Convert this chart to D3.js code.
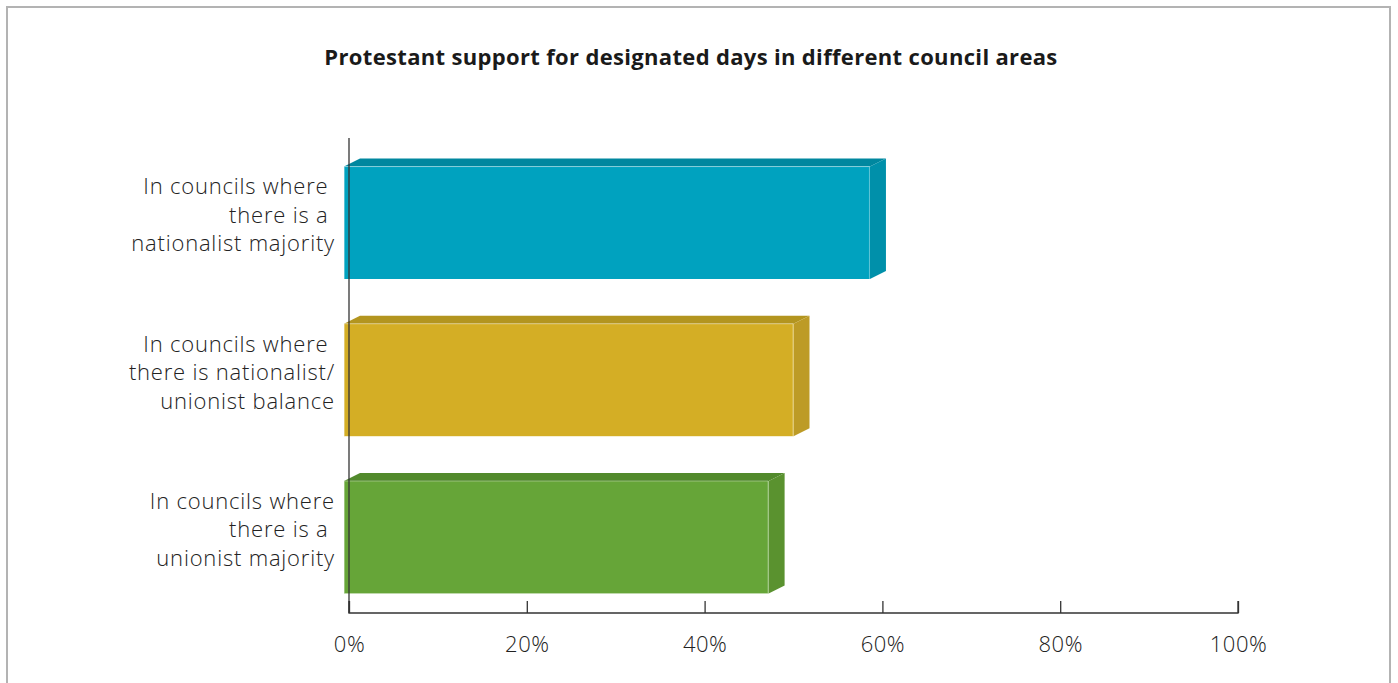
<!DOCTYPE html>
<html><head><meta charset="utf-8">
<script src="https://cdn.jsdelivr.net/npm/d3@7"></script>
<style>
html,body{margin:0;padding:0;background:#fff;}
svg{display:block;}
text{white-space:pre;}
</style></head>
<body>
<svg id="chart" width="1398" height="683"></svg>
<script>
const title = "Protestant support for designated days in different council areas";
const categories = [
  ["In councils where ", "there is a ", "nationalist majority"],
  ["In councils where ", "there is nationalist/", "unionist balance"],
  ["In councils where", "there is a ", "unionist majority"]
];
const values = [58.6, 50, 47.2];
const tickValues = [0, 20, 40, 60, 80, 100];
const frontColors = ["#00a2bf", "#d4ae25", "#66a538"];
const topColors = ["#00879f", "#b3951f", "#528a2c"];
const sideColors = ["#0090aa", "#bd9b26", "#5a922f"];

const svg = d3.select("#chart");
const font = "'Open Sans', 'Noto Sans', sans-serif";

svg.append("rect").attr("x", 7).attr("y", 7).attr("width", 1383).attr("height", 700)
  .attr("fill", "none").attr("stroke", "#b3b3b3").attr("stroke-width", 2);

svg.append("text").attr("x", 691).attr("y", 65).attr("text-anchor", "middle")
  .attr("font-family", font).attr("font-weight", 700).attr("font-size", 22)
  .attr("letter-spacing", 0.33).attr("fill", "#1a1a1a").text(title);

const x = d3.scaleLinear().domain([0, 100]).range([349, 1238]);
const y = d3.scaleBand().domain(d3.range(categories.length)).range([143, 617]).paddingInner(0.285).paddingOuter(0.15);

const dx = 16, dy = 8;
const x0 = x(0) - 5;

const g = svg.append("g");
categories.forEach((c, i) => {
  const top = y(i), h = y.bandwidth(), xe = x(values[i]);
  g.append("path").attr("d", `M${x0},${top} L${x0+dx},${top-dy} L${xe+dx},${top-dy} L${xe},${top} Z`)
    .attr("fill", topColors[i]);
  g.append("path").attr("d", `M${xe},${top} L${xe+dx},${top-dy} L${xe+dx},${top+h-dy} L${xe},${top+h} Z`)
    .attr("fill", sideColors[i]);
  g.append("rect").attr("x", x0).attr("y", top).attr("width", xe - x0).attr("height", h)
    .attr("fill", frontColors[i]);
  g.append("path").attr("d", `M${x0+0.5},${top+h} L${x0+0.5},${top} L${xe-0.5},${top} L${xe-0.5},${top+h}`)
    .attr("fill", "none").attr("stroke", "#fff").attr("stroke-opacity", 0.35).attr("stroke-width", 1);

  const t = svg.append("text").attr("text-anchor", "end").attr("font-family", font)
    .attr("font-weight", 300).attr("font-size", 22).attr("letter-spacing", 0.8).attr("fill", "#222");
  const cy = top + h / 2;
  c.forEach((line, k) => {
    t.append("tspan").attr("x", 335).attr("y", cy + (k - 1) * 28.5).text(line);
  });
});

svg.append("line").attr("x1", 349).attr("x2", 349).attr("y1", 138).attr("y2", 613)
  .attr("stroke", "#333").attr("stroke-width", 1.3);
const axis = d3.axisBottom(x).tickValues(tickValues).tickSize(-12).tickPadding(23)
  .tickFormat(d => d + "%");
const ag = svg.append("g").attr("transform", "translate(0,613)").call(axis);
ag.select(".domain").attr("stroke", "#333").attr("stroke-width", 1.3).attr("d", `M349,-12V0H1238V-12`);
ag.selectAll(".tick line").attr("stroke", "#333").attr("stroke-width", 1.3);
ag.selectAll(".tick text").attr("font-family", font).attr("font-weight", 300)
  .attr("font-size", 22).attr("letter-spacing", 0.5).attr("fill", "#222").attr("dy", "0.71em");
</script>
</body></html>
